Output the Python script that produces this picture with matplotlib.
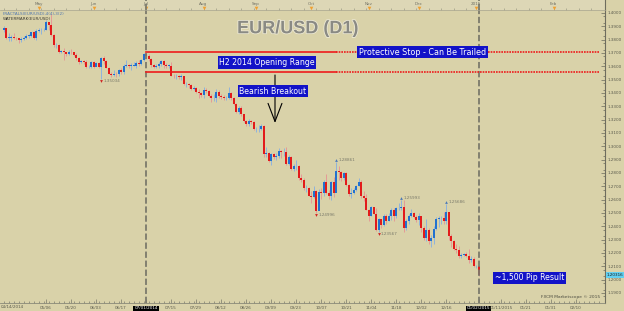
import matplotlib
matplotlib.use('Agg')
import matplotlib.pyplot as plt
import matplotlib.patheffects as pe
import numpy as np
import pandas as pd

# EUR/USD daily candles, 11 Apr 2014 - 02 Jan 2015 (open = previous close)
first_open = 1.3870
close = [
    # Apr
    1.3885, 1.3815, 1.3815, 1.3818, 1.3813, 1.3810, 1.3795, 1.3805, 1.3815, 1.3830, 1.3830, 1.3855, 1.3813, 1.3868,
    # May
    1.3870, 1.3872, 1.3875, 1.3930, 1.3908, 1.3835, 1.3757, 1.3762, 1.3705, 1.3712, 1.3710, 1.3695, 1.3710, 1.3705,
    1.3686, 1.3660, 1.3630, 1.3640, 1.3635, 1.3592, 1.3595, 1.3635,
    # Jun
    1.3595, 1.3625, 1.3595, 1.3660, 1.3640, 1.3590, 1.3545, 1.3535, 1.3545, 1.3540, 1.3570, 1.3560, 1.3600, 1.3610,
    1.3605, 1.3605, 1.3605, 1.3625, 1.3615, 1.3645, 1.3690,
    # Jul
    1.3680, 1.3655, 1.3610, 1.3595, 1.3605, 1.3615, 1.3640, 1.3610, 1.3605, 1.3605, 1.3530, 1.3525, 1.3525, 1.3522,
    1.3525, 1.3465, 1.3465, 1.3460, 1.3430, 1.3440, 1.3410, 1.3400, 1.3387,
    # Aug
    1.3425, 1.3415, 1.3380, 1.3360, 1.3365, 1.3410, 1.3375, 1.3370, 1.3360, 1.3365, 1.3400, 1.3365, 1.3320, 1.3255,
    1.3285, 1.3240, 1.3190, 1.3165, 1.3190, 1.3180, 1.3130,
    # Sep
    1.3130, 1.3130, 1.3150, 1.2945, 1.2950, 1.2890, 1.2940, 1.2920, 1.2925, 1.2965, 1.2955, 1.2960, 1.2865, 1.2920,
    1.2830, 1.2850, 1.2855, 1.2760, 1.2745, 1.2685, 1.2690, 1.2630,
    # Oct
    1.2620, 1.2665, 1.2515, 1.2660, 1.2650, 1.2735, 1.2650, 1.2630, 1.2735, 1.2650, 1.2815, 1.2810, 1.2760, 1.2800,
    1.2710, 1.2645, 1.2650, 1.2670, 1.2705, 1.2735, 1.2630, 1.2610, 1.2525,
    # Nov
    1.2480, 1.2545, 1.2490, 1.2375, 1.2455, 1.2410, 1.2475, 1.2440, 1.2475, 1.2525, 1.2480, 1.2535, 1.2540, 1.2545,
    1.2390, 1.2440, 1.2475, 1.2500, 1.2470, 1.2450,
    # Dec
    1.2475, 1.2385, 1.2310, 1.2375, 1.2290, 1.2310, 1.2380, 1.2455, 1.2460, 1.2465, 1.2440, 1.2505, 1.2330, 1.2290,
    1.2230, 1.2225, 1.2175, 1.2185, 1.2190, 1.2180, 1.2150, 1.2155, 1.2100,
    # Jan
    1.2100, 1.20316,
]
high = [
    1.3905, 1.3888, 1.3850, 1.3835, 1.3850, 1.3820, 1.3812, 1.3820, 1.3830, 1.3845, 1.3840, 1.3860, 1.3865, 1.3880,
    1.3885, 1.3890, 1.3885, 1.3950, 1.3935, 1.3993, 1.3840, 1.3775, 1.3770, 1.3725, 1.3740, 1.3710, 1.3725, 1.3732,
    1.3710, 1.3700, 1.3670, 1.3650, 1.3650, 1.3645, 1.3610, 1.3640,
    1.3640, 1.3635, 1.3630, 1.3670, 1.3675, 1.3645, 1.3595, 1.3560, 1.3570, 1.3560, 1.3580, 1.3590, 1.3615, 1.3645,
    1.3615, 1.3625, 1.3635, 1.3640, 1.3645, 1.3655, 1.3700,
    1.3700, 1.3690, 1.3665, 1.3615, 1.3620, 1.3630, 1.3650, 1.3650, 1.3625, 1.3615, 1.3630, 1.3545, 1.3545, 1.3535,
    1.3545, 1.3525, 1.3480, 1.3475, 1.3470, 1.3450, 1.3445, 1.3430, 1.3405,
    1.3445, 1.3435, 1.3420, 1.3395, 1.3390, 1.3430, 1.3420, 1.3390, 1.3385, 1.3380, 1.3445, 1.3405, 1.3370, 1.3325,
    1.3300, 1.3300, 1.3240, 1.3195, 1.3205, 1.3200, 1.3190,
    1.3145, 1.3160, 1.3165, 1.3160, 1.2995, 1.2955, 1.2950, 1.2950, 1.2950, 1.2985, 1.2975, 1.2990, 1.2995, 1.2935,
    1.2925, 1.2870, 1.2895, 1.2860, 1.2790, 1.2760, 1.2710, 1.2695,
    1.2665, 1.2700, 1.2670, 1.2680, 1.2690, 1.2745, 1.2790, 1.2670, 1.2740, 1.2770, 1.28861, 1.2850, 1.2815, 1.2810,
    1.2810, 1.2720, 1.2685, 1.2685, 1.2710, 1.2760, 1.2745, 1.2665, 1.2640,
    1.2530, 1.2550, 1.2545, 1.2535, 1.2460, 1.2445, 1.2495, 1.2495, 1.2500, 1.2535, 1.2535, 1.2545, 1.2575, 1.25993,
    1.2595, 1.2455, 1.2490, 1.2530, 1.2505, 1.2485,
    1.2500, 1.2475, 1.2400, 1.2455, 1.2390, 1.2335, 1.2405, 1.2470, 1.2475, 1.2480, 1.2505, 1.25686, 1.2510, 1.2340,
    1.2295, 1.2270, 1.2250, 1.2200, 1.2200, 1.2210, 1.2230, 1.2175, 1.2170,
    1.2110, 1.2090,
]
low = [
    1.3855, 1.3805, 1.3790, 1.3790, 1.3808, 1.3795, 1.3778, 1.3785, 1.3795, 1.3808, 1.3815, 1.3820, 1.3805, 1.3800,
    1.3855, 1.3840, 1.3865, 1.3870, 1.3875, 1.3830, 1.3748, 1.3740, 1.3700, 1.3700, 1.3650, 1.3680, 1.3688, 1.3695,
    1.3675, 1.3650, 1.3620, 1.3625, 1.3615, 1.3586, 1.3585, 1.3590,
    1.3590, 1.3600, 1.3590, 1.35034, 1.3620, 1.3585, 1.3540, 1.3522, 1.3525, 1.3520, 1.3530, 1.3545, 1.3545, 1.3595,
    1.3585, 1.3575, 1.3600, 1.3590, 1.3600, 1.3610, 1.3640,
    1.3670, 1.3640, 1.3595, 1.3590, 1.3585, 1.3590, 1.3600, 1.3590, 1.3590, 1.3585, 1.3525, 1.3510, 1.3505, 1.3505,
    1.3500, 1.3460, 1.3445, 1.3440, 1.3420, 1.3420, 1.3400, 1.3365, 1.3370,
    1.3365, 1.3400, 1.3370, 1.3335, 1.3340, 1.3335, 1.3365, 1.3355, 1.3345, 1.3345, 1.3355, 1.3350, 1.3310, 1.3250,
    1.3240, 1.3225, 1.3180, 1.3155, 1.3150, 1.3165, 1.3120,
    1.3110, 1.3110, 1.3120, 1.2920, 1.2920, 1.2880, 1.2860, 1.2905, 1.2900, 1.2915, 1.2915, 1.2925, 1.2860, 1.2860,
    1.2825, 1.2815, 1.2820, 1.2750, 1.2730, 1.2675, 1.2660, 1.2625,
    1.2575, 1.2610, 1.24996, 1.2525, 1.2605, 1.2625, 1.2640, 1.2605, 1.2600, 1.2620, 1.2655, 1.2750, 1.2740, 1.2750,
    1.2700, 1.2630, 1.2615, 1.2640, 1.2665, 1.2705, 1.2610, 1.2590, 1.2520,
    1.2440, 1.2480, 1.2490, 1.2365, 1.23567, 1.2385, 1.2400, 1.2415, 1.2440, 1.2450, 1.2440, 1.2460, 1.2520, 1.2520,
    1.2360, 1.2375, 1.2415, 1.2470, 1.2460, 1.2435,
    1.2410, 1.2355, 1.2300, 1.2290, 1.2270, 1.2247, 1.2270, 1.2375, 1.2395, 1.2420, 1.2420, 1.2415, 1.2300, 1.2245,
    1.2225, 1.2200, 1.2165, 1.2165, 1.2180, 1.2170, 1.2125, 1.2135, 1.2095,
    1.2090, 1.2030,
]
dates = pd.bdate_range('2014-04-11', '2015-01-02')
assert len(dates) == len(close) == len(high) == len(low)

# fractal points labelled on the chart
fractal_dates = ['2014-06-05', '2014-10-03', '2014-10-15', '2014-11-07', '2014-11-20', '2014-12-16']
fractal_kind = ['low', 'low', 'high', 'low', 'high', 'high']

stop_level = 1.3707
range_low = 1.3558
range_start = '2014-07-01'
end_date = '2015-01-02'

hist_tick_dates = pd.date_range('2014-05-06', '2014-12-16', freq='14D')
future_tick_dates = ['2015-01-11', '2015-01-21', '2015-01-31', '2015-02-10']
month_names = ['May', 'Jun', 'Jul', 'Aug', 'Sep', 'Oct', 'Nov', 'Dec', '2015']
future_month = ('Feb', '2015-02-01')

BG = '#d9d2a9'
TXT = '#5a5a4c'

close = np.array(close)
high = np.array(high)
low = np.array(low)
opens = np.r_[first_open, close[:-1]]
x = np.arange(len(close))
pos = {d: i for i, d in enumerate(dates)}


def xpos(d):
    d = pd.Timestamp(d)
    if d in pos:
        return pos[d]
    # beyond the last bar the scale runs in calendar days
    return len(dates) - 1 + (d - dates[-1]).days


fig = plt.figure(figsize=(6.24, 3.11), dpi=100, facecolor=BG)
ax = fig.add_axes([0, 8 / 311, 605 / 624, 293 / 311], facecolor=BG)
top = fig.add_axes([0, 301.5 / 311, 605 / 624, 9.5 / 311], facecolor='#ddd7b6')

x0, x1 = -1.4, 240.6
ax.set_xlim(x0, x1)
ax.set_ylim(1.1825, 1.40225)

# candles
up = close >= opens
ax.vlines(x, low, high, colors=np.where(up, '#8fb3dc', '#e59a96'), lw=0.7, zorder=2)
body = np.maximum(np.abs(close - opens), 0.00025)
ax.bar(x, body, bottom=np.minimum(close, opens), width=0.8,
       color=np.where(up, '#2271cf', '#e21b1b'), lw=0, zorder=3)

# vertical dashed markers
for d in (range_start, end_date):
    for a in (ax, top):
        a.axvline(xpos(d), color='#7b7a6c', lw=1.3, ls=(0, (3.5, 1.5)), zorder=4)

# stop and opening range lines
xs = xpos(range_start)
x_solid_end = 132.8
for lvl in (stop_level, range_low):
    ax.plot([xs, x_solid_end], [lvl, lvl], color='#ee1c1c', lw=1.2, zorder=5)
    ax.plot([x_solid_end, 238.2], [lvl, lvl], color='#ee1c1c', lw=1.2, ls=(0, (1, 0.6)), zorder=5)

box = dict(boxstyle='square,pad=0.2', fc='#1212c8', ec='none')
ax.text(167.6, stop_level, 'Protective Stop - Can Be Trailed', color='white', fontsize=5.8,
        ha='center', va='center', bbox=box, zorder=7)
ax.text(105.4, 1.3629, 'H2 2014 Opening Range', color='white', fontsize=5.6,
        ha='center', va='center', bbox=box, zorder=7)
ax.annotate('', xy=(108.6, 1.3175), xytext=(108.6, 1.3535),
            arrowprops=dict(arrowstyle='->,head_length=1.3,head_width=0.5', color='black',
                            lw=0.8, shrinkA=0, shrinkB=0), zorder=6)
ax.text(107.8, 1.3415, 'Bearish Breakout', color='white', fontsize=5.6,
        ha='center', va='center', bbox=box, zorder=7)
ax.text(210.4, 1.2015, '~1,500 Pip Result', color='white', fontsize=5.6,
        ha='center', va='center', bbox=box, zorder=7)

# fractal labels
for d, k in zip(fractal_dates, fractal_kind):
    i = pos[pd.Timestamp(d)]
    if k == 'high':
        y, mk, mc, off = high[i], '^', '#4a78b8', 0.0012
    else:
        y, mk, mc, off = low[i], 'v', '#d02020', -0.0014
    ax.plot(i, y + off, marker=mk, ms=2, color=mc, mew=0, zorder=6)
    ax.text(i + 0.9, y + off, f'{y:.5f}', fontsize=3, color='#7a7a6a', va='center', zorder=6)

# title and small texts
ax.text(0.492, 0.965, 'EUR/USD (D1)', transform=ax.transAxes, ha='center', va='top',
        fontsize=13, fontweight='bold', family='Liberation Sans', color='#8a8a84',
        path_effects=[pe.withStroke(linewidth=1.2, foreground='#ece8d4')], zorder=8)
ax.text(0.005, 0.993, 'FRACTALS(EUR/USD),4(4),3(2)', transform=ax.transAxes, fontsize=3,
        color='#4f77b0', va='top')
ax.text(0.005, 0.975, 'WATERMARK(EUR/USD)', transform=ax.transAxes, fontsize=3,
        color='#3c3c34', va='top')
ax.text(0.992, 0.015, 'FXCM Marketscope \u00a9 2015', transform=ax.transAxes, fontsize=3.2,
        color='#4c4c40', ha='right', va='bottom')

# right price axis
ax.yaxis.tick_right()
ax.set_yticks(np.arange(1.19, 1.4001, 0.01))
ax.set_yticks(np.arange(1.1875, 1.4001, 0.005), minor=True)
ax.yaxis.set_major_formatter(matplotlib.ticker.FormatStrFormatter('%.4f'))
ax.tick_params(axis='y', which='both', direction='in', colors='#6a6a5c', labelsize=3,
               labelcolor=TXT, pad=2, width=0.5)
ax.tick_params(axis='y', which='major', length=3)
ax.tick_params(axis='y', which='minor', length=1.5)
ax.text(1.003, close[-1], f'{close[-1]:.5f}', transform=ax.get_yaxis_transform(), fontsize=3,
        color='#1a1a1a', va='center', ha='left',
        bbox=dict(boxstyle='square,pad=0.25', fc='#62d0f0', ec='none'), clip_on=False)

# bottom date axis
tick_x = [pos[d] for d in hist_tick_dates]
tick_lab = [d.strftime('%m/%d') for d in hist_tick_dates]
hl_x = [xpos(range_start), xpos(end_date)]
hl_lab = [pd.Timestamp(range_start).strftime('%m/%d/%Y'), pd.Timestamp(end_date).strftime('%m/%d/%Y')]
for t, l in zip(hl_x, hl_lab):
    if t in tick_x:
        tick_lab[tick_x.index(t)] = l
    else:
        tick_x.append(t)
        tick_lab.append(l)
fut_x = [xpos(d) for d in future_tick_dates]
fut_lab = [pd.Timestamp(d).strftime('%m/%d') for d in future_tick_dates]
fut_lab[0] = pd.Timestamp(future_tick_dates[0]).strftime('%m/%d/%Y')
ax.set_xticks(tick_x + fut_x)
ax.set_xticklabels(tick_lab + fut_lab)
ax.set_xticks(np.arange(0, 240, 2), minor=True)
ax.tick_params(axis='x', which='both', direction='in', colors='#7a7a6a', labelsize=3,
               labelcolor=TXT, pad=2.5, width=0.5)
ax.tick_params(axis='x', which='major', length=3)
ax.tick_params(axis='x', which='minor', length=1.5)
for t in ax.get_xticklabels():
    if t.get_text() in hl_lab:
        t.set_color('white')
        t.set_bbox(dict(boxstyle='square,pad=0.2', fc='black', ec='none'))
ax.text(0.002, -0.008, pd.Timestamp('2014-04-14').strftime('%m/%d/%Y'), transform=ax.transAxes,
        fontsize=3, color=TXT, va='top', ha='left')

for s in ('left', 'top'):
    ax.spines[s].set_visible(False)
ax.spines['right'].set_color('#6e6d5e')
ax.spines['bottom'].set_color('#8a8a78')
ax.spines['bottom'].set_linewidth(0.6)

# month strip on top
top.set_xlim(x0, x1)
top.set_ylim(0, 1)
top.set_yticks([])
month_starts = [dates[dates.to_period('M') == p][0] for p in pd.period_range('2014-05', '2015-01', freq='M')]
for name, d in zip(month_names, month_starts):
    top.text(pos[d], 0.62, name, fontsize=3, color='#707064', ha='center', va='center')
    top.plot(pos[d], 0.12, marker='v', ms=2.6, color='#f0a030', mew=0)
top.text(xpos(future_month[1]), 0.62, future_month[0], fontsize=3, color='#707064', ha='center', va='center')
top.plot(xpos(future_month[1]), 0.12, marker='v', ms=2.6, color='#f0a030', mew=0)
top.set_xticks(np.arange(0, 240, 5))
top.set_xticklabels([])
top.tick_params(axis='x', direction='in', length=1.5, width=0.4, colors='#8a8a78')
for s in ('left', 'top'):
    top.spines[s].set_visible(False)
top.spines['right'].set_color('#6e6d5e')
top.spines['bottom'].set_color('#a8a590')
top.spines['bottom'].set_linewidth(0.5)

fig.savefig('out.png', dpi=100, facecolor=BG)
